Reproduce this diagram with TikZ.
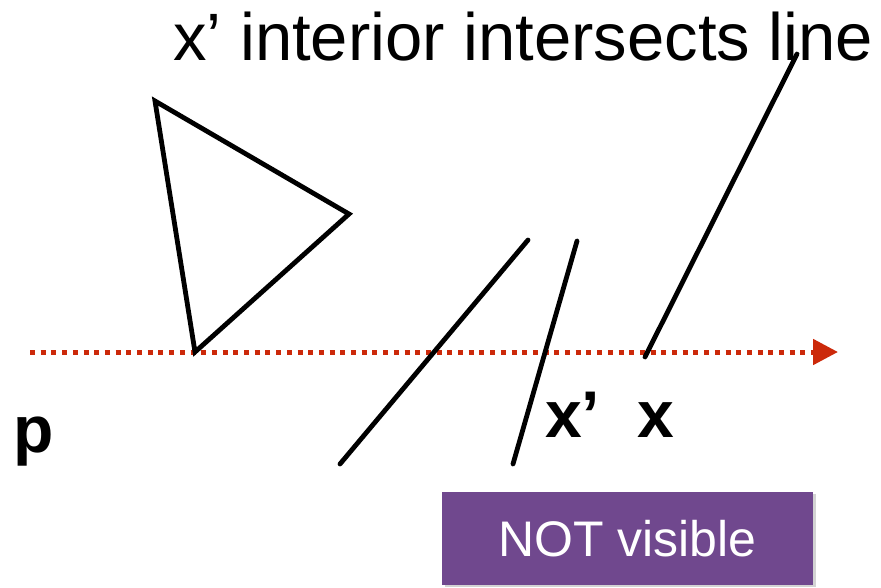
\documentclass[tikz,border=0pt]{standalone}
\usepackage{fontspec}
\setmainfont{Liberation Sans}
\usetikzlibrary{arrows.meta,shadows}
\definecolor{rayred}{RGB}{204,41,10}
\definecolor{boxpurple}{RGB}{112,72,142}

\begin{document}
\begin{tikzpicture}[x=1pt,y=-1pt,
  seg/.style={line width=4.8pt,line cap=round},
  lbl/.style={anchor=base west,inner sep=0pt,font=\fontsize{66}{66}\selectfont\bfseries},
  visbox/.style={fill=boxpurple,text=white,minimum width=371pt,minimum height=93pt,inner sep=0pt,
    font=\fontsize{50}{50}\selectfont,drop shadow={shadow xshift=3pt,shadow yshift=-2pt,opacity=0.35}}]
  \useasboundingbox (0,0) rectangle (881,587);
  \coordinate (p0) at (30,352); \coordinate (ptip) at (838,352);
  \draw[rayred,line width=5pt,dash pattern=on 5pt off 5.7pt,-{Triangle[length=25pt,width=25pt]}] (p0) -- (ptip);
  % triangle blocker
  \draw[seg,line cap=butt,line join=miter] (155,101) -- (349,214) -- (195,352) -- cycle;
  % segments
  \coordinate (a1) at (340,464); \coordinate (a2) at (528,240);
  \coordinate (xp1) at (513,464); \coordinate (xp2) at (577,241);
  \coordinate (x1) at (645,357); \coordinate (x2) at (797,54);
  \draw[seg] (a1) -- (a2);
  \draw[seg] (xp1) -- (xp2);
  \draw[seg] (x1) -- (x2);
  \node[anchor=base west,inner sep=0pt,font=\fontsize{67}{67}\selectfont] (ttl) at (173,60) {x’ interior intersects line};
  \node[lbl] (lp) at (13,452) {p};
  \node[lbl] (lxp) at (545,437) {x’};
  \node[lbl] (lx) at (637,437) {x};
  \node[visbox] (nv) at (627.5,538.5) {NOT visible};
\end{tikzpicture}
\end{document}
